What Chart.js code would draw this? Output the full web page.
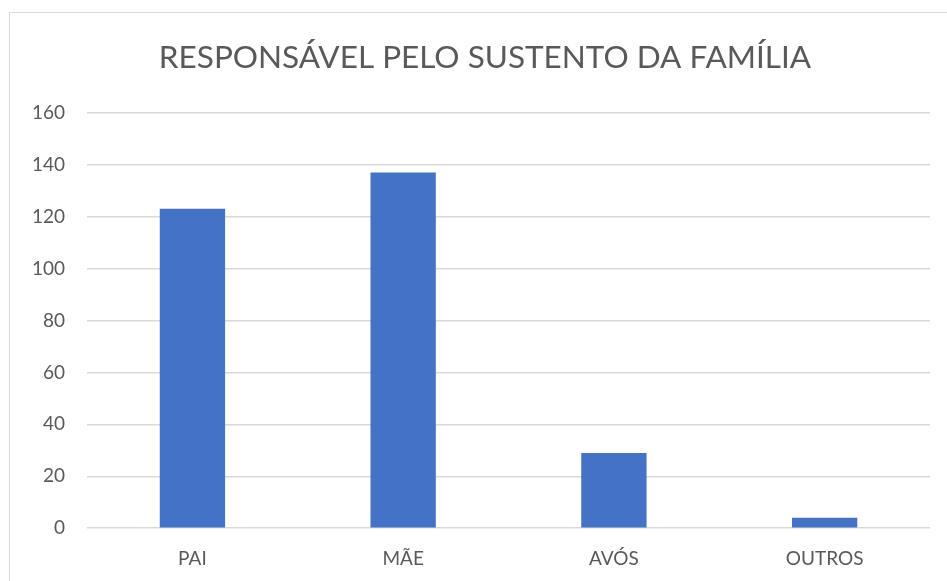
<!DOCTYPE html>
<html>
<head>
<meta charset="utf-8">
<script src="https://cdn.jsdelivr.net/npm/chart.js@4"></script>
<style>
  html, body { margin: 0; padding: 0; background: #fff; overflow: hidden; }
  #box {
    position: absolute; left: 9px; top: 12px;
    width: 952px; height: 580px;
    border: 1px solid #d9d9d9; box-sizing: border-box;
  }
</style>
</head>
<body>
<div id="box"><canvas id="myChart"></canvas></div>
<script>
// categories and values
const categories = ['PAI', 'MÃE', 'AVÓS', 'OUTROS'];
const values = [123, 137, 29, 4];
const titleText = 'RESPONSÁVEL PELO SUSTENTO DA FAMÍLIA';

const grey = '#595959';

const config = {
    type: 'bar',
    data: {
        labels: categories,
        datasets: [
            {
                label: 'Total',
                data: values,
                backgroundColor: '#4472c4',
                barPercentage: 0.62,
                categoryPercentage: 0.5
            }
        ]
    },
    options: {
        responsive: true,
        maintainAspectRatio: false,
        animation: false,
        layout: { padding: { left: 0, right: 0, top: 20, bottom: 10 } },
        plugins: {
            legend: { display: false },
            tooltip: { enabled: false },
            title: {
                display: true,
                text: titleText,
                color: grey,
                font: { family: 'Lato', size: 31.5, weight: 'normal' },
                padding: { top: 6, bottom: 36 }
            }
        },
        scales: {
            x: {
                grid: { display: false },
                border: { display: false },
                ticks: { color: grey, font: { family: 'Lato', size: 19 }, padding: 11 }
            },
            y: {
                min: 0,
                max: 160,
                ticks: { stepSize: 20, color: grey, font: { family: 'Lato', size: 19 }, padding: 22 },
                grid: { color: '#d9d9d9', lineWidth: 1.5, drawTicks: false },
                border: { display: false }
            },
            // empty spacer on the right so the title stays centred on the whole box
            spacer: {
                type: 'linear',
                position: 'right',
                grid: { display: false },
                border: { display: false },
                ticks: { display: false },
                afterFit: s => { s.width = 30; }
            }
        }
    }
};

const myChart = new Chart(document.getElementById('myChart'), config);
</script>
</body>
</html>
